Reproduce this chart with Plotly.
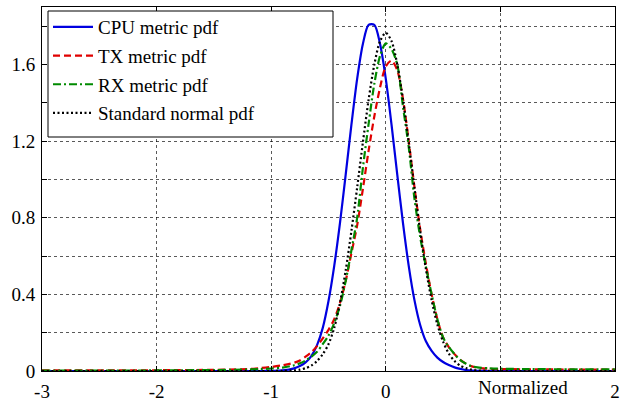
import plotly.graph_objects as go

# Common x grid (normalized residuals)
x_vals = [-3.0, -2.5, -2.0, -1.5, -1.2, -1.1, -1.0, -0.9, -0.8, -0.75, -0.7, -0.65,
          -0.6, -0.55, -0.5, -0.45, -0.4, -0.35, -0.3, -0.25, -0.2, -0.15, -0.1, -0.05,
          0.0, 0.05, 0.1, 0.15, 0.2, 0.25, 0.3, 0.35, 0.4, 0.45, 0.5, 0.55, 0.6, 0.65,
          0.7, 0.75, 0.8, 0.9, 1.0, 1.2, 1.5, 2.0]

cpu_pdf = [0, 0, 0, 0, 0, 0, 0.001, 0.003, 0.014, 0.026, 0.045, 0.078,
           0.135, 0.225, 0.365, 0.549, 0.772, 1.025, 1.286, 1.525, 1.707, 1.807, 1.807, 1.707,
           1.525, 1.286, 1.025, 0.772, 0.549, 0.37, 0.24, 0.155, 0.105, 0.07, 0.047, 0.031, 0.019, 0.011,
           0.005, 0.002, 0.001, 0, 0, 0, 0, 0]

tx_pdf = [0.003, 0.003, 0.004, 0.006, 0.01, 0.015, 0.021, 0.03, 0.043, 0.055, 0.075, 0.098,
          0.13, 0.17, 0.215, 0.27, 0.355, 0.47, 0.615, 0.76, 0.95, 1.15, 1.33, 1.48,
          1.59, 1.62, 1.57, 1.42, 1.2, 0.96, 0.74, 0.56, 0.4, 0.27, 0.175, 0.125, 0.088, 0.058,
          0.038, 0.024, 0.017, 0.012, 0.01, 0.009, 0.008, 0.007]

rx_pdf = [0.002, 0.002, 0.003, 0.005, 0.008, 0.01, 0.013, 0.018, 0.03, 0.04, 0.055, 0.075,
          0.1, 0.14, 0.185, 0.25, 0.34, 0.47, 0.63, 0.8, 1.06, 1.29, 1.5, 1.645,
          1.71, 1.68, 1.6, 1.38, 1.17, 0.9, 0.7, 0.545, 0.4, 0.27, 0.175, 0.125, 0.088, 0.057,
          0.038, 0.025, 0.019, 0.014, 0.012, 0.01, 0.009, 0.008]

normal_pdf = [0, 0, 0, 0, 0, 0, 0, 0.001, 0.003, 0.007, 0.015, 0.028,
              0.052, 0.088, 0.14, 0.225, 0.355, 0.525, 0.731, 0.957, 1.193, 1.416, 1.6, 1.722,
              1.765, 1.722, 1.6, 1.416, 1.193, 0.957, 0.731, 0.532, 0.369, 0.243, 0.153, 0.091, 0.052, 0.028,
              0.015, 0.007, 0.003, 0.001, 0, 0, 0, 0]

series_names = ["CPU metric pdf", "TX metric pdf", "RX metric pdf", "Standard normal pdf"]

x_tickvals = [-3, -2, -1, 0, 1, 2]
x_ticktext = ["-3", "-2", "-1", "0", "", "2"]
y_tickvals = [0, 0.2, 0.4, 0.6, 0.8, 1.0, 1.2, 1.4, 1.6, 1.8]
y_ticktext = ["0", "", "0.4", "", "0.8", "", "1.2", "", "1.6", ""]

FONT = "Liberation Serif"

fig = go.Figure()
styles = [
    dict(color="#0000e0", width=2.2, dash="solid"),
    dict(color="#e00000", width=2.2, dash="7px,4px"),
    dict(color="#008a00", width=2.2, dash="8px,3px,2px,3px"),
    dict(color="#000000", width=2.2, dash="2px,2.5px"),
]
for i, (name, ys) in enumerate(zip(series_names, [cpu_pdf, tx_pdf, rx_pdf, normal_pdf])):
    fig.add_trace(go.Scatter(
        x=x_vals, y=ys, mode="lines", name=name, legendgroup=f"g{i}",
        line=dict(shape="spline", smoothing=0.8, **styles[i]),
    ))

axis_common = dict(
    showline=True, linecolor="black", linewidth=1, mirror="allticks",
    ticks="inside", ticklen=5, tickcolor="black", tickwidth=1,
    showgrid=True, gridcolor="rgba(0,0,0,0.65)", griddash="dot", gridwidth=1,
    zeroline=False, automargin=False,
    tickfont=dict(family=FONT, size=19, color="black"),
)

fig.update_xaxes(range=[-3, 2], tickmode="array", tickvals=x_tickvals, ticktext=x_ticktext,
                 ticklabelstandoff=3, **axis_common)
fig.update_yaxes(range=[0, 1.9], tickmode="array", tickvals=y_tickvals, ticktext=y_ticktext,
                 ticklabelstandoff=2, **axis_common)

fig.add_annotation(text="Normalized<br>residuals", x=1.2, xref="x", y=-0.012, yref="paper",
                   yanchor="top", xanchor="center", showarrow=False,
                   font=dict(family=FONT, size=19, color="black"))

# legend frame (pixel geometry of the reference legend box)
PW, PH = 573.0, 364.0
fig.add_shape(type="rect", xref="paper", yref="paper", layer="above",
              x0=(48 - 42) / PW, x1=(333 - 42) / PW,
              y0=(371 - 137) / PH, y1=(371 - 11) / PH,
              line=dict(color="black", width=1), fillcolor="white")

fig.update_layout(
    width=623, height=402,
    margin=dict(l=42, r=8, t=7, b=31, autoexpand=False),
    paper_bgcolor="white", plot_bgcolor="white",
    font=dict(family=FONT, size=19, color="black"),
    legend=dict(x=(48 - 42) / PW, y=(371 - 8) / PH, xanchor="left", yanchor="top",
                bgcolor="rgba(0,0,0,0)", borderwidth=0,
                font=dict(family=FONT, size=19, color="black"),
                tracegroupgap=1, itemwidth=40),
    showlegend=True,
)

fig.write_html("out.html", post_script="document.body.style.margin='0px';",
               config={"displayModeBar": False})
